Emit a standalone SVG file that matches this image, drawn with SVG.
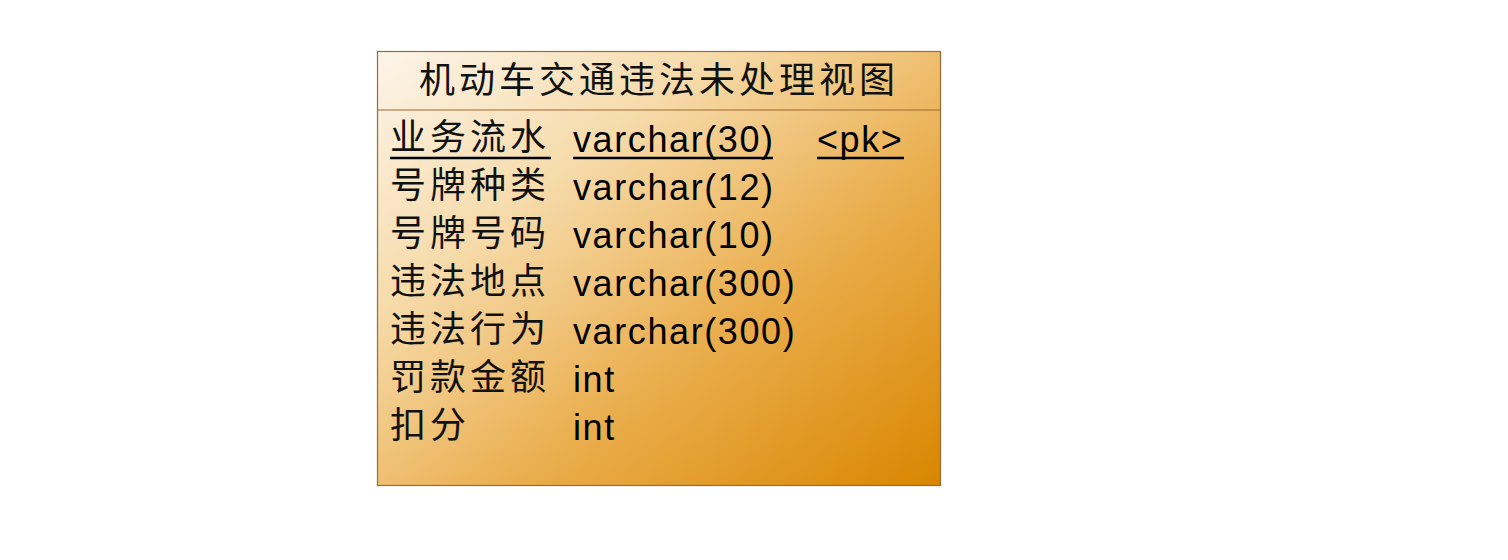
<svg xmlns="http://www.w3.org/2000/svg" width="1508" height="560" viewBox="0 0 1508 560">
<defs>
<linearGradient id="bg" x1="0" y1="0" x2="1" y2="1">
<stop offset="0" stop-color="#fcf5ea"/>
<stop offset="0.3" stop-color="#f6dbab"/>
<stop offset="0.62" stop-color="#eaae4e"/>
<stop offset="1" stop-color="#d98600"/>
</linearGradient>
<style>
.cjk{font-family:"Noto Sans CJK SC","Noto Sans",sans-serif;font-size:36px;letter-spacing:4px;fill:#111}
.lat{font-family:"Liberation Sans",Arial,sans-serif;font-size:36px;letter-spacing:1.6px;fill:#000}
.ul{stroke:#000;stroke-width:2.5}
</style>
</defs>
<rect width="1508" height="560" fill="#ffffff"/>
<g id="table">
<rect x="377.5" y="51.5" width="563" height="434" fill="url(#bg)" stroke="#a0692e" stroke-width="1.2"/>
<line x1="377.5" y1="110" x2="940.5" y2="110" stroke="#a0692e" stroke-width="1.2"/>
<text class="cjk" x="659" y="93" text-anchor="middle">机动车交通违法未处理视图</text>
<text class="cjk" x="390" y="150">业务流水</text>
<text class="lat" x="573" y="152">varchar(30)</text>
<text class="lat" x="817" y="152">&lt;pk&gt;</text>
<line class="ul" x1="390" y1="158" x2="551" y2="158"/>
<line class="ul" x1="573" y1="158" x2="773" y2="158"/>
<line class="ul" x1="817" y1="158" x2="904" y2="158"/>
<text class="cjk" x="390" y="198">号牌种类</text>
<text class="lat" x="573" y="200">varchar(12)</text>
<text class="cjk" x="390" y="246">号牌号码</text>
<text class="lat" x="573" y="248">varchar(10)</text>
<text class="cjk" x="390" y="294">违法地点</text>
<text class="lat" x="573" y="296">varchar(300)</text>
<text class="cjk" x="390" y="342">违法行为</text>
<text class="lat" x="573" y="344">varchar(300)</text>
<text class="cjk" x="390" y="390">罚款金额</text>
<text class="lat" x="573" y="392">int</text>
<text class="cjk" x="390" y="438">扣分</text>
<text class="lat" x="573" y="440">int</text>
</g>
<g id="connectors"/>
</svg>
